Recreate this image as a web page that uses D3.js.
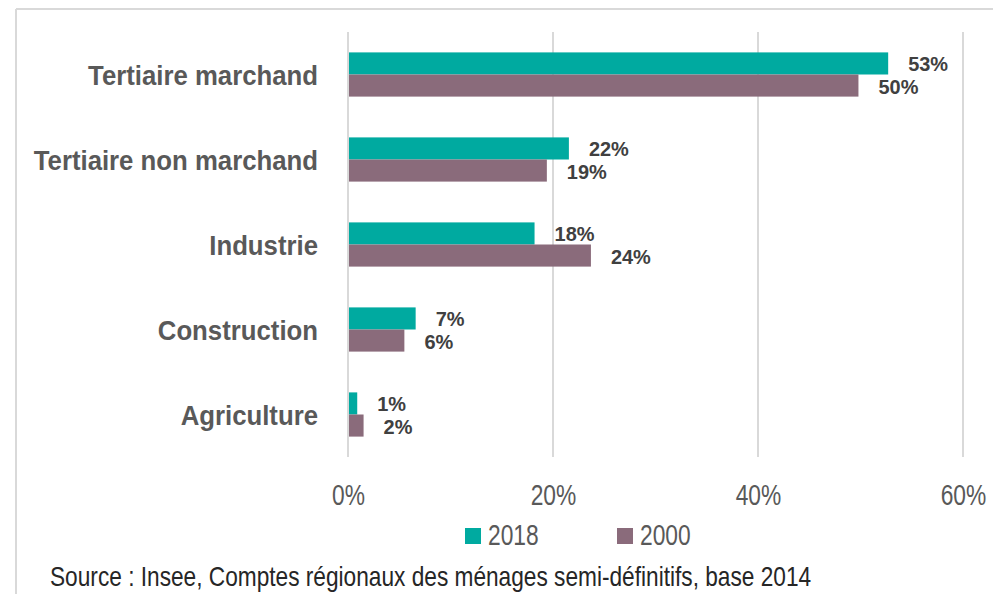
<!DOCTYPE html>
<html>
<head>
<meta charset="utf-8">
<script src="https://cdn.jsdelivr.net/npm/d3@7"></script>
<style>
  body { margin: 0; background: #fff; }
  svg { display: block; }
</style>
</head>
<body>
<svg id="chart" width="993" height="594"></svg>
<script>
// data
const categories = ['Tertiaire marchand', 'Tertiaire non marchand', 'Industrie', 'Construction', 'Agriculture'];
const series = ['2018', '2000'];
const values2018 = [0.527, 0.2155, 0.182, 0.066, 0.009];
const values2000 = [0.498, 0.194, 0.237, 0.055, 0.0152];
const xTicks = [0, 0.2, 0.4, 0.6];
const colors = ['#00aaa0', '#8a6b7b'];
const sourceText = 'Source : Insee, Comptes régionaux des ménages semi-définitifs, base 2014';

const svg = d3.select('#chart');
const font = '"Liberation Sans", Arial, sans-serif';

// squeeze text horizontally so it looks like the narrow face of the original
function squeeze(sel, factor) {
    sel.each(function() {
        let t = d3.select(this);
        let x = +t.attr('x') || 0;
        let y = +t.attr('y') || 0;
        t.attr('x', null).attr('y', null)
            .attr('transform', `translate(${x}, ${y}) scale(${factor}, 1)`);
    });
}

//outer frame
svg.append('line').attr('x1', 16).attr('x2', 993).attr('y1', 9).attr('y2', 9)
    .style('stroke', '#d9d9d9').style('stroke-width', 2);
svg.append('line').attr('x1', 16).attr('x2', 16).attr('y1', 9).attr('y2', 594)
    .style('stroke', '#d9d9d9').style('stroke-width', 2);

//scales
let xscale = d3.scaleLinear().domain([0, 0.6]).range([348, 963]);
let yscale = d3.scaleBand()
    .domain(categories)
    .range([32, 457])
    .paddingInner(0.48)
    .paddingOuter(0.24);
let yinner = d3.scaleBand().domain(series).range([0, yscale.bandwidth()]);

//gridlines
svg.append('g').selectAll('line').data(xTicks).enter()
    .append('line')
    .attr('x1', d => xscale(d))
    .attr('x2', d => xscale(d))
    .attr('y1', 32)
    .attr('y2', 457)
    .style('stroke', '#d9d9d9')
    .style('stroke-width', 2);

//x axis labels
let xaxis = d3.axisBottom(xscale).tickValues(xTicks).tickFormat(d3.format('.0%')).tickSize(0).tickPadding(0);
let xaxisSel = svg.append('g').attr('transform', 'translate(0, 482)').call(xaxis);
xaxisSel.select('.domain').remove();
xaxisSel.selectAll('text')
    .attr('dy', '0.78em')
    .style('font-family', font)
    .style('font-size', '30px')
    .style('fill', '#595959')
    .call(squeeze, 0.76);

//category labels
let yaxis = d3.axisLeft(yscale).tickSize(0).tickPadding(0);
let yaxisSel = svg.append('g').attr('transform', 'translate(318, 0)').call(yaxis);
yaxisSel.select('.domain').remove();
yaxisSel.selectAll('text')
    .attr('dy', '0.36em')
    .style('font-family', font)
    .style('font-size', '28px')
    .style('font-weight', 'bold')
    .style('fill', '#595959')
    .call(squeeze, 0.92);

//bars
let rows = [];
categories.forEach((c, i) => {
    rows.push({cat: c, s: '2018', v: values2018[i]});
    rows.push({cat: c, s: '2000', v: values2000[i]});
});
let bars = svg.append('g').attr('id', 'bars');
bars.selectAll('rect').data(rows).enter()
    .append('rect')
    .attr('x', xscale(0) + 1)
    .attr('y', d => yscale(d.cat) + yinner(d.s))
    .attr('width', d => xscale(d.v) - xscale(0) - 1)
    .attr('height', yinner.bandwidth())
    .style('fill', d => colors[series.indexOf(d.s)]);

//value labels
bars.selectAll('text').data(rows).enter()
    .append('text')
    .attr('x', d => xscale(d.v) + 20)
    .attr('y', d => yscale(d.cat) + yinner(d.s) + yinner.bandwidth() / 2)
    .attr('dy', '0.38em')
    .text(d => d3.format('.0%')(d.v))
    .style('font-family', font)
    .style('font-size', '21px')
    .style('font-weight', 'bold')
    .style('fill', '#404040')
    .call(squeeze, 0.95);

//legend
let legend = svg.append('g').attr('transform', 'translate(465, 528)');
let items = legend.selectAll('g').data(series).enter()
    .append('g')
    .attr('transform', (d, i) => `translate(${i * 152}, 0)`);
items.append('rect')
    .attr('width', 16)
    .attr('height', 16)
    .style('fill', (d, i) => colors[i]);
items.append('text')
    .attr('x', 23)
    .attr('y', 17)
    .text(d => d)
    .style('font-family', font)
    .style('font-size', '30px')
    .style('fill', '#595959')
    .call(squeeze, 0.76);

//source
svg.append('text')
    .attr('x', 50)
    .attr('y', 586)
    .text(sourceText)
    .style('font-family', font)
    .style('font-size', '28px')
    .style('fill', '#262626')
    .call(squeeze, 0.81);
</script>
</body>
</html>
